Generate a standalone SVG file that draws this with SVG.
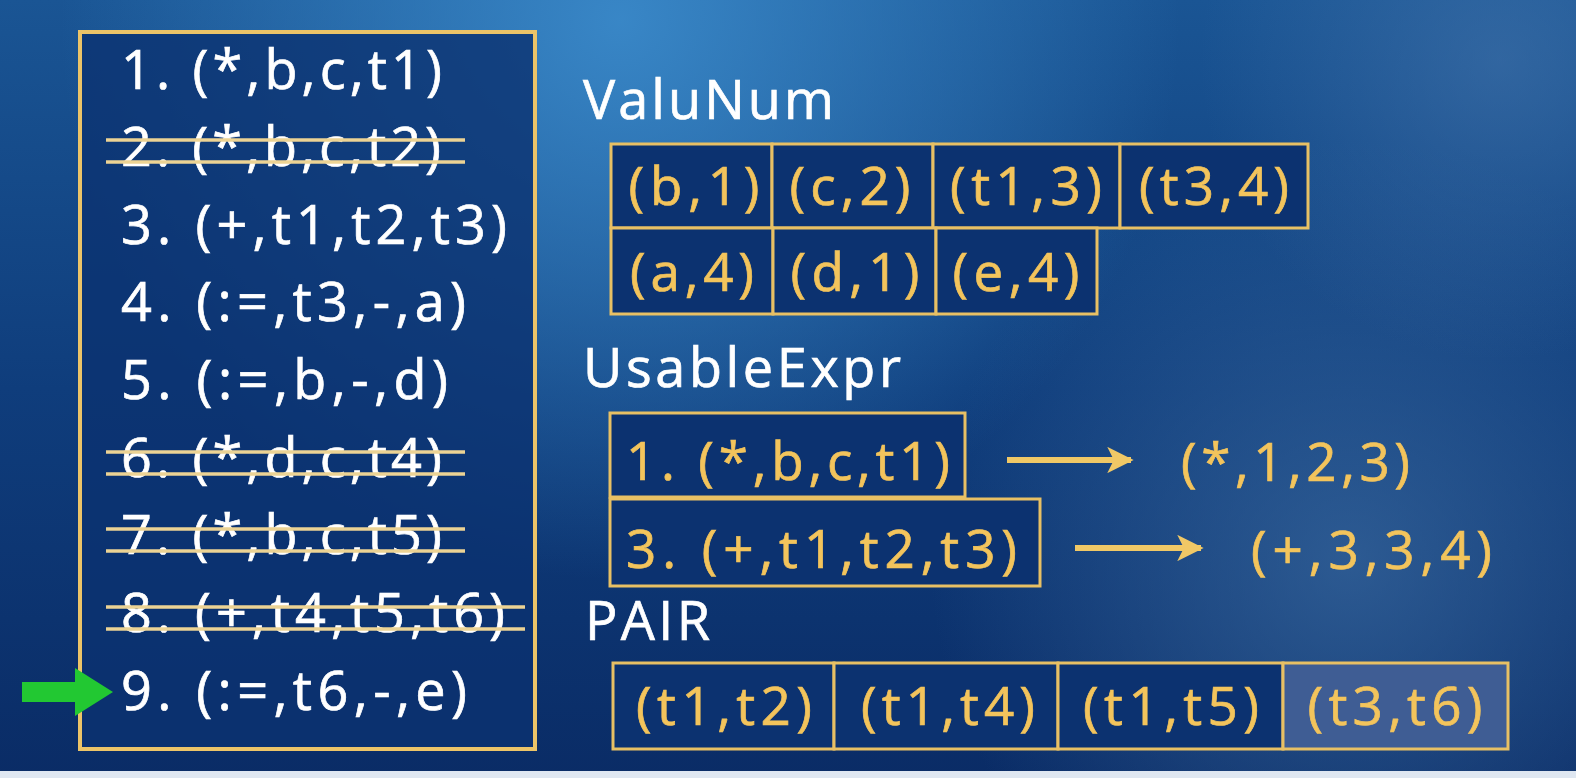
<svg xmlns="http://www.w3.org/2000/svg" width="1576" height="778" viewBox="0 0 1576 778">
<defs>
<linearGradient id="bg" x1="0" y1="0" x2="0" y2="1">
<stop offset="0" stop-color="#1a5594"/>
<stop offset="0.5" stop-color="#0f3d7c"/>
<stop offset="1" stop-color="#0a2c66"/>
</linearGradient>
<radialGradient id="hl1" cx="620" cy="20" r="560" gradientUnits="userSpaceOnUse">
<stop offset="0" stop-color="#3c8ccc" stop-opacity="0.9"/>
<stop offset="1" stop-color="#3c8ccc" stop-opacity="0"/>
</radialGradient>
<radialGradient id="hl2" cx="1350" cy="560" r="420" gradientUnits="userSpaceOnUse">
<stop offset="0" stop-color="#3a6aa0" stop-opacity="0.7"/>
<stop offset="1" stop-color="#3a6aa0" stop-opacity="0"/>
</radialGradient>
<radialGradient id="hl3" cx="1500" cy="60" r="300" gradientUnits="userSpaceOnUse">
<stop offset="0" stop-color="#4a7ab0" stop-opacity="0.5"/>
<stop offset="1" stop-color="#4a7ab0" stop-opacity="0"/>
</radialGradient>
<marker id="ah" viewBox="0 0 10 10" refX="9" refY="5" markerWidth="4.4" markerHeight="4.4" orient="auto" markerUnits="strokeWidth">
<path d="M0,0 L10,5 L0,10 L2.5,5 Z" fill="#f0c866"/>
</marker>
</defs>
<style>
.w{font-family:"Open Sans","Noto Sans","DejaVu Sans",sans-serif;font-size:54px;fill:#ffffff;stroke:#ffffff;stroke-width:0.7px}
.g{font-family:"Open Sans","Noto Sans","DejaVu Sans",sans-serif;font-size:53px;fill:#f3c45c;stroke:#f3c45c;stroke-width:0.7px}
.gc{font-family:"Open Sans","Noto Sans","DejaVu Sans",sans-serif;font-size:53px;fill:#f3c45c;stroke:#f3c45c;stroke-width:0.7px;text-anchor:middle}
.cell{fill:#0c3270;stroke:#e8c064;stroke-width:3}
.box{fill:#0b3270;fill-opacity:0.8;stroke:#ecc468;stroke-width:4}
.strike{stroke:#ecd394;stroke-width:3.5}
.conn{stroke:#f0c866;stroke-width:6;fill:none}
</style>
<rect width="1576" height="778" fill="url(#bg)"/>
<rect width="1576" height="778" fill="url(#hl1)"/>
<rect width="1576" height="778" fill="url(#hl2)"/>
<rect width="1576" height="778" fill="url(#hl3)"/>
<rect x="0" y="771" width="1576" height="7" fill="#dfe7f1"/>

<g id="code-list">
<rect class="box" x="80" y="32" width="455" height="717"/>
<text class="w" x="121" y="89" textLength="321">1. (*,b,c,t1)</text>
<text class="w" x="121" y="166" textLength="320">2. (*,b,c,t2)</text>
<line class="strike" x1="106" y1="140" x2="465" y2="140"/>
<line class="strike" x1="106" y1="162" x2="465" y2="162"/>
<text class="w" x="121" y="244" textLength="386">3. (+,t1,t2,t3)</text>
<text class="w" x="121" y="321" textLength="345">4. (:=,t3,-,a)</text>
<text class="w" x="121" y="399" textLength="327">5. (:=,b,-,d)</text>
<text class="w" x="121" y="477" textLength="321">6. (*,d,c,t4)</text>
<line class="strike" x1="106" y1="452" x2="465" y2="452"/>
<line class="strike" x1="106" y1="474" x2="465" y2="474"/>
<text class="w" x="121" y="554" textLength="321">7. (*,b,c,t5)</text>
<line class="strike" x1="106" y1="529" x2="465" y2="529"/>
<line class="strike" x1="106" y1="551" x2="465" y2="551"/>
<text class="w" x="121" y="632" textLength="384">8. (+,t4,t5,t6)</text>
<line class="strike" x1="106" y1="607" x2="525" y2="607"/>
<line class="strike" x1="106" y1="629" x2="525" y2="629"/>
<text class="w" x="121" y="710" textLength="346">9. (:=,t6,-,e)</text>
</g>

<g id="pointer">
<polygon points="22,682 75,682 75,668 113,692 75,716 75,702 22,702" fill="#22c832"/>
</g>

<g id="valunum">
<text class="w" x="583" y="119" textLength="251">ValuNum</text>
<rect class="cell" x="611" y="144" width="161" height="84"/>
<rect class="cell" x="772" y="144" width="161" height="84"/>
<rect class="cell" x="933" y="144" width="187" height="84"/>
<rect class="cell" x="1120" y="144" width="188" height="84"/>
<rect class="cell" x="611" y="228" width="162" height="86"/>
<rect class="cell" x="773" y="228" width="163" height="86"/>
<rect class="cell" x="936" y="228" width="161" height="86"/>
<text class="gc" x="694" y="205" textLength="131">(b,1)</text>
<text class="gc" x="850" y="205" textLength="121">(c,2)</text>
<text class="gc" x="1026" y="205" textLength="152">(t1,3)</text>
<text class="gc" x="1214" y="205" textLength="150">(t3,4)</text>
<text class="gc" x="692" y="291" textLength="124">(a,4)</text>
<text class="gc" x="855" y="291" textLength="129">(d,1)</text>
<text class="gc" x="1016" y="291" textLength="127">(e,4)</text>
</g>

<g id="usableexpr">
<text class="w" x="583" y="387" textLength="318">UsableExpr</text>
<rect class="cell" x="610" y="413" width="355" height="84"/>
<rect class="cell" x="610" y="499" width="430" height="87"/>
<text class="g" x="626" y="480" textLength="324">1. (*,b,c,t1)</text>
<text class="g" x="626" y="568" textLength="391">3. (+,t1,t2,t3)</text>
</g>

<g id="results">
<text class="g" x="1181" y="481" textLength="229">(*,1,2,3)</text>
<text class="g" x="1251" y="569" textLength="241">(+,3,3,4)</text>
</g>

<g id="connectors">
<line class="conn" x1="1007" y1="460" x2="1131" y2="460" marker-end="url(#ah)"/>
<line class="conn" x1="1075" y1="548" x2="1201" y2="548" marker-end="url(#ah)"/>
</g>

<g id="pair">
<text class="w" x="585" y="640" textLength="125">PAIR</text>
<rect class="cell" x="613" y="663" width="221" height="86"/>
<rect class="cell" x="834" y="663" width="224" height="86"/>
<rect class="cell" x="1058" y="663" width="225" height="86"/>
<rect class="cell" x="1283" y="663" width="225" height="86" style="fill:#3f5d94"/>
<text class="gc" x="724" y="725" textLength="176">(t1,t2)</text>
<text class="gc" x="948" y="725" textLength="174">(t1,t4)</text>
<text class="gc" x="1171" y="725" textLength="176">(t1,t5)</text>
<text class="gc" x="1395" y="725" textLength="175">(t3,t6)</text>
</g>
</svg>
